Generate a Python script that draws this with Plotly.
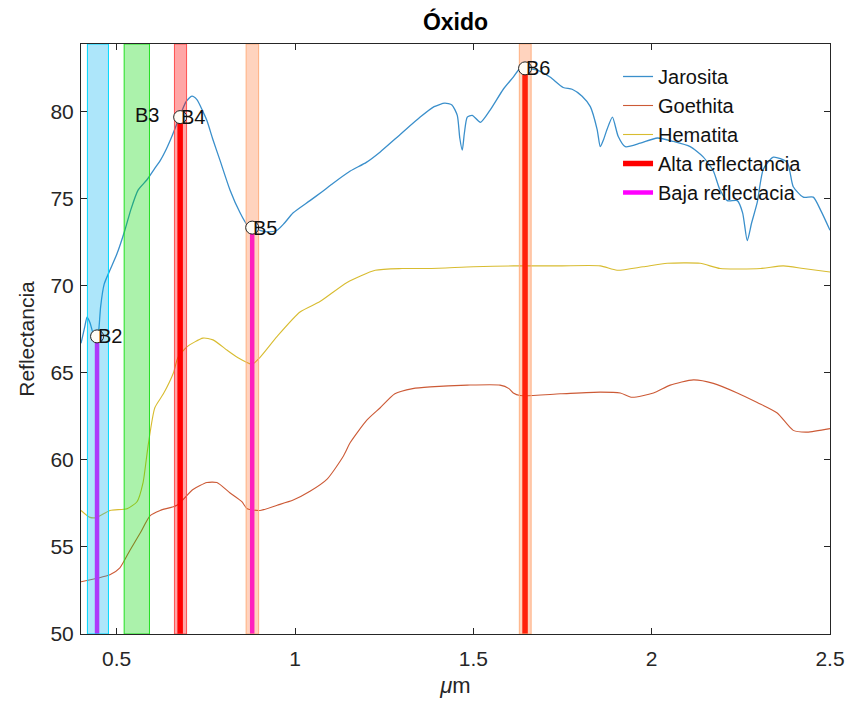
import plotly.graph_objects as go

# ---------------- data ----------------
jar_x = [0.400, 0.410, 0.417, 0.425, 0.435, 0.445, 0.450, 0.455, 0.465, 0.481, 0.500, 0.523, 0.540, 0.560,
         0.585, 0.605, 0.622, 0.640, 0.655, 0.678, 0.695, 0.711, 0.725, 0.740, 0.753, 0.770, 0.790, 0.818,
         0.846, 0.866, 0.880, 0.900, 0.925, 0.950, 0.970, 0.995, 1.042, 1.075, 1.107, 1.155, 1.200, 1.239,
         1.295, 1.351, 1.390, 1.420, 1.440, 1.455, 1.462, 1.469, 1.475, 1.483, 1.497, 1.520, 1.547, 1.584,
         1.612, 1.631, 1.645, 1.679, 1.715, 1.752, 1.777, 1.805, 1.828, 1.847, 1.856, 1.865, 1.875, 1.890,
         1.906, 1.926, 1.968, 2.016, 2.061, 2.108, 2.145, 2.173, 2.190, 2.212, 2.240, 2.255, 2.268, 2.280,
         2.296, 2.313, 2.341, 2.380, 2.397, 2.425, 2.453, 2.475, 2.500]
jar_y = [66.7, 67.6, 68.2, 67.9, 67.2, 66.9, 67.5, 68.8, 70.1, 70.9, 71.8, 73.2, 74.4, 75.5,
         76.1, 76.7, 77.2, 77.9, 78.6, 79.8, 80.6, 80.9, 80.7, 80.1, 79.5, 78.4, 77.2, 75.5,
         74.2, 73.5, 73.3, 73.2, 73.1, 73.2, 73.6, 74.2, 74.9, 75.4, 75.9, 76.6, 77.1, 77.7,
         78.7, 79.7, 80.3, 80.5, 80.4, 79.8, 78.5, 77.8, 78.8, 79.7, 79.8, 79.4, 80.1, 81.3,
         82.0, 82.5, 82.5, 82.4, 82.0, 81.4, 81.3, 80.9, 80.3, 79.0, 78.0, 78.4, 79.0, 79.7,
         78.6, 78.0, 78.2, 78.5, 78.3, 78.0, 77.4, 76.6, 75.6, 74.9, 74.9, 74.2, 72.6, 73.6,
         74.8, 76.7, 77.4, 77.1, 75.7, 75.1, 75.1, 74.3, 73.2]

goe_x = [0.400, 0.445, 0.481, 0.509, 0.537, 0.566, 0.594, 0.622, 0.669, 0.714, 0.753, 0.781, 0.818,
         0.851, 0.866, 0.902, 0.950, 0.995, 1.042, 1.090, 1.135, 1.155, 1.202, 1.239, 1.280, 1.330,
         1.379, 1.483, 1.575, 1.600, 1.612, 1.631, 1.744, 1.856, 1.912, 1.945, 2.005, 2.052, 2.117,
         2.173, 2.240, 2.296, 2.352, 2.397, 2.436, 2.500]
goe_y = [53.0, 53.2, 53.4, 53.8, 54.8, 55.8, 56.8, 57.1, 57.4, 58.3, 58.7, 58.7, 58.1,
         57.6, 57.2, 57.1, 57.4, 57.7, 58.2, 58.9, 60.2, 61.0, 62.3, 63.0, 63.8, 64.1,
         64.2, 64.3, 64.3, 64.1, 63.85, 63.7, 63.8, 63.9, 63.85, 63.6, 63.85, 64.3, 64.6,
         64.4, 63.85, 63.3, 62.7, 61.7, 61.6, 61.8]

hem_x = [0.400, 0.425, 0.445, 0.481, 0.529, 0.557, 0.574, 0.588, 0.607, 0.631, 0.659, 0.672, 0.697,
         0.742, 0.770, 0.810, 0.838, 0.880, 0.902, 0.950, 1.014, 1.070, 1.146, 1.225, 1.300, 1.379,
         1.500, 1.612, 1.744, 1.856, 1.903, 1.976, 2.044, 2.136, 2.192, 2.305, 2.369, 2.425, 2.500]
hem_y = [57.1, 56.7, 56.7, 57.1, 57.2, 57.6, 58.7, 60.8, 63.0, 63.8, 65.0, 65.9, 66.5,
         67.0, 66.9, 66.3, 65.9, 65.5, 65.9, 67.1, 68.5, 69.1, 70.2, 70.9, 71.0, 71.0,
         71.1, 71.15, 71.15, 71.15, 70.9, 71.1, 71.3, 71.3, 71.0, 71.0, 71.15, 71.0, 70.8]

band_names = ["B2", "B3", "B4", "B5", "B6"]
band_lo = [0.418, 0.521, 0.662, 0.863, 1.629]
band_hi = [0.477, 0.592, 0.696, 0.898, 1.662]

point_names = ["B2", "B4", "B5", "B6"]
point_x = [0.445, 0.678, 0.880, 1.645]
point_y = [67.1, 79.7, 73.35, 82.5]

alta_bands = ["B4", "B6"]
baja_bands = ["B2", "B5"]

b3_label = ("B3", 0.545, 79.8)

y_base = 50
x_range = [0.4, 2.5]
y_range = [50, 83.9]
x_ticks = [0.5, 1, 1.5, 2, 2.5]
y_ticks = [50, 55, 60, 65, 70, 75, 80]

# ---------------- styles ----------------
FONT = "Liberation Sans, Arial, Helvetica, sans-serif"
band_fill = {"B2": "rgba(0,176,240,0.32)", "B3": "rgba(0,215,0,0.33)", "B4": "rgba(255,0,0,0.35)",
             "B5": "rgba(255,110,40,0.30)", "B6": "rgba(255,110,40,0.30)"}
band_edge = {"B2": "#00d8ff", "B3": "#22e022", "B4": "#ff5050",
             "B5": "#ffb080", "B6": "#ffb080"}

fig = go.Figure()

fig.add_trace(go.Scatter(x=jar_x, y=jar_y, mode="lines", name="Jarosita",
                         line=dict(color="#3a8fcb", width=1.3, shape="spline", smoothing=0.6),
                         legendgroup="a"))
fig.add_trace(go.Scatter(x=goe_x, y=goe_y, mode="lines", name="Goethita",
                         line=dict(color="#cc5a36", width=1.1, shape="spline", smoothing=0.6),
                         legendgroup="b"))
fig.add_trace(go.Scatter(x=hem_x, y=hem_y, mode="lines", name="Hematita",
                         line=dict(color="#d8bc30", width=1.1, shape="spline", smoothing=0.6),
                         legendgroup="c"))

def vlines(names):
    xs, ys = [], []
    for n in names:
        i = point_names.index(n)
        xs += [point_x[i], point_x[i], None]
        ys += [y_base, point_y[i], None]
    return xs, ys

ax, ay = vlines(alta_bands)
fig.add_trace(go.Scatter(x=ax, y=ay, mode="lines", name="Alta reflectancia",
                         line=dict(color="#ff0000", width=5.5), legendgroup="d"))
bx, by = vlines(baja_bands)
fig.add_trace(go.Scatter(x=bx, y=by, mode="lines", name="Baja reflectacia",
                         line=dict(color="#ff00ff", width=4.5), legendgroup="e"))

# translucent band patches, drawn over the lines but under the markers
for n, lo, hi in zip(band_names, band_lo, band_hi):
    fig.add_trace(go.Scatter(x=[lo, hi, hi, lo, lo], y=[y_range[0], y_range[0], y_range[1], y_range[1], y_range[0]],
                             mode="lines", fill="toself", fillcolor=band_fill[n],
                             line=dict(color=band_edge[n], width=1), showlegend=False, hoverinfo="skip"))

fig.add_trace(go.Scatter(x=point_x, y=point_y, mode="markers", showlegend=False,
                         marker=dict(symbol="circle", size=13, color="#fffdf6",
                                     line=dict(color="#222222", width=1))))

for n, x, y in zip(point_names, point_x, point_y):
    fig.add_annotation(x=x, y=y, text=n, showarrow=False, xanchor="left", yanchor="middle",
                       xshift=-1, font=dict(family=FONT, size=20, color="#111111"))
fig.add_annotation(x=b3_label[1], y=b3_label[2], text=b3_label[0], showarrow=False,
                   xanchor="left", yanchor="middle", font=dict(family=FONT, size=20, color="#111111"))

axis_common = dict(showline=True, linecolor="#262626", linewidth=1, mirror="ticks",
                   ticks="inside", ticklen=6, tickcolor="#262626", showgrid=False, zeroline=False,
                   automargin=False,
                   tickfont=dict(family=FONT, size=21, color="#262626"))
fig.update_xaxes(range=x_range, tickvals=x_ticks, ticktext=[f"{t:g}" for t in x_ticks],
                 ticklabelstandoff=6,
                 title=dict(text="<i>μ</i>m", font=dict(family=FONT, size=22, color="#262626"), standoff=8),
                 **axis_common)
fig.update_yaxes(range=y_range, tickvals=y_ticks, ticklabelstandoff=2,
                 title=dict(text="Reflectancia", font=dict(family=FONT, size=21, color="#262626"), standoff=10),
                 **axis_common)

fig.update_layout(
    width=850, height=708,
    margin=dict(l=81, r=20, t=44, b=74, autoexpand=False),
    paper_bgcolor="white", plot_bgcolor="white",
    title=dict(text="<b>Óxido</b>", x=0.5, xref="paper", y=1 - 22 / 708, yref="container",
               xanchor="center", yanchor="middle", font=dict(family=FONT, size=23, color="black")),
    legend=dict(x=0.717, y=1 - 13 / 590, xanchor="left", yanchor="top", bgcolor="rgba(0,0,0,0)",
                borderwidth=0, font=dict(family=FONT, size=20, color="#111111"), tracegroupgap=0),
    showlegend=True,
)

fig.write_html("out.html")
